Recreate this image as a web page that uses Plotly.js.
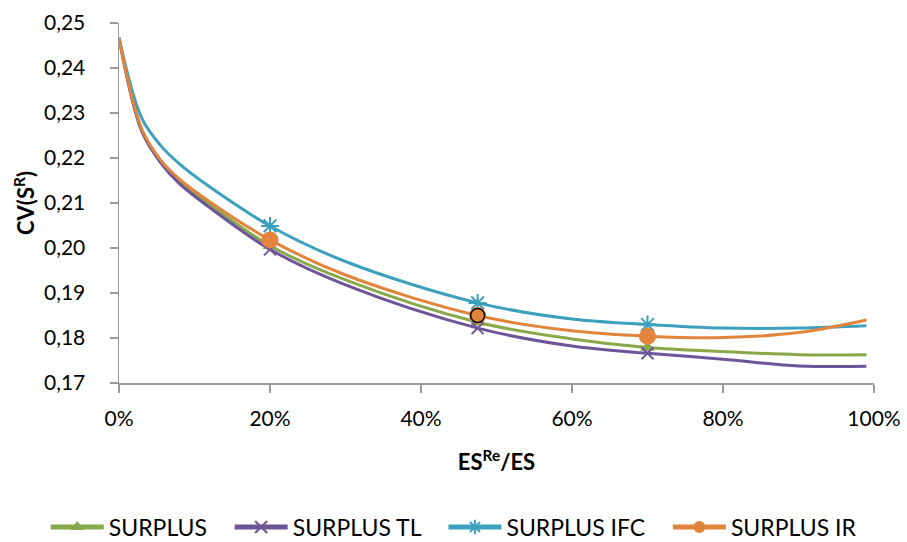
<!DOCTYPE html>
<html>
<head>
<meta charset="utf-8">
<script src="https://cdn.plot.ly/plotly-3.0.1.min.js"></script>
<style>
  html, body { margin: 0; padding: 0; background: #fff; }
  #chart { width: 907px; height: 542px; }
</style>
</head>
<body>
<div id="chart"></div>
<script>
// Share of reinsured ES (x) and the resulting coefficient of variation CV(S^R)
const shareRe = [0, 0.03, 0.055, 0.08, 0.12, 0.2, 0.3, 0.475, 0.6, 0.7, 0.8, 0.9, 0.99];

const surplus    = [0.2467, 0.2262, 0.2193, 0.2148, 0.2097, 0.2005, 0.1929, 0.1835, 0.1798, 0.1779, 0.1770, 0.1763, 0.1763];
const surplusTL  = [0.2467, 0.2260, 0.2190, 0.2143, 0.2090, 0.1997, 0.1918, 0.1822, 0.1782, 0.1766, 0.1753, 0.1738, 0.1737];
const surplusIFC = [0.2467, 0.2289, 0.2228, 0.2187, 0.2136, 0.2049, 0.1970, 0.1878, 0.1842, 0.1830, 0.1822, 0.1822, 0.1827];
const surplusIR  = [0.2467, 0.2265, 0.2196, 0.2153, 0.2103, 0.2018, 0.1940, 0.1850, 0.1816, 0.1804, 0.1801, 0.1812, 0.1840];

// Points that carry a visible marker
const markedShares = [0.2, 0.475, 0.7];
// The IR point drawn with a dark outline
const outlinedShare = 0.475;

const seriesNames = ['SURPLUS', 'SURPLUS TL', 'SURPLUS IFC', 'SURPLUS IR'];

const yTicks = [0.17, 0.18, 0.19, 0.20, 0.21, 0.22, 0.23, 0.24, 0.25];
const xTicks = [0, 0.2, 0.4, 0.6, 0.8, 1.0];

const FONT = 'Lato, "Liberation Sans", sans-serif';
// extra room after each legend label except the last
const LEGEND_PAD = '\u00a0\u00a0\u00a0';

function sizes(sz) {
  return shareRe.map(x => markedShares.some(m => Math.abs(m - x) < 1e-9) ? sz : 0);
}

function lineTrace(i, y, color, symbol, sz, lineWidth) {
  const label = seriesNames[i] + (i < seriesNames.length - 1 ? LEGEND_PAD : '');
  return {
    x: shareRe, y: y, name: label,
    type: 'scatter', mode: 'lines+markers',
    line: { color: color, width: 3, shape: 'spline', smoothing: 1 },
    marker: { symbol: symbol, size: sizes(sz), color: color, opacity: 1,
              line: { color: color, width: lineWidth } },
    hoverinfo: 'x+y'
  };
}

const green = '#88A94A', purple = '#6E5599', cyan = '#3DA0BC', orange = '#E2843B';

const idx = shareRe.findIndex(x => Math.abs(x - outlinedShare) < 1e-9);

const data = [
  lineTrace(0, surplus, green, 'triangle-up', 13, 0),
  lineTrace(1, surplusTL, purple, 'x-thin-open', 12, 2),
  lineTrace(2, surplusIFC, cyan, 'asterisk-open', 15, 2),
  lineTrace(3, surplusIR, orange, 'circle', 17, 0),
  {
    x: [shareRe[idx]], y: [surplusIR[idx]], type: 'scatter', mode: 'markers',
    showlegend: false, hoverinfo: 'skip',
    marker: { symbol: 'circle', size: 14, color: orange, opacity: 1, line: { color: '#000', width: 1.5 } }
  }
];

const axisColor = '#9a9a9a';

const layout = {
  width: 907, height: 542,
  margin: { l: 119, r: 33, t: 23, b: 159, autoexpand: false },
  paper_bgcolor: '#fff', plot_bgcolor: '#fff',
  separators: ', ',
  font: { family: FONT, size: 21, color: '#000' },
  showlegend: true,
  legend: {
    orientation: 'h',
    x: -0.097, xanchor: 'left', y: -0.4, yanchor: 'middle',
    font: { family: FONT, size: 23, color: '#000' },
    itemsizing: 'constant', itemwidth: 53, tracegroupgap: 0
  },
  xaxis: {
    range: [0, 1], tickvals: xTicks, tickformat: '.0%',
    showgrid: false, zeroline: false,
    showline: true, linecolor: axisColor, linewidth: 1.5,
    ticks: 'outside', ticklen: 8, tickcolor: axisColor, tickwidth: 1.5,
    ticklabelstandoff: 8,
    tickfont: { family: FONT, size: 21, color: '#000' },
    title: { text: '<b>ES<sup>Re</sup>/ES</b>', font: { family: FONT, size: 22, color: '#000' }, standoff: 26 }
  },
  yaxis: {
    range: [0.17, 0.25], tickvals: yTicks, tickformat: '.2f',
    showgrid: false, zeroline: false,
    showline: true, linecolor: axisColor, linewidth: 1.5,
    ticks: 'outside', ticklen: 8, tickcolor: axisColor, tickwidth: 1.5,
    ticklabelstandoff: 20,
    tickfont: { family: FONT, size: 21, color: '#000' },
    title: { text: '<b>CV(S<sup>R</sup>)</b>', font: { family: FONT, size: 22, color: '#000' }, standoff: 3 }
  }
};

Plotly.newPlot('chart', data, layout, { displayModeBar: false, staticPlot: true });
</script>
</body>
</html>
